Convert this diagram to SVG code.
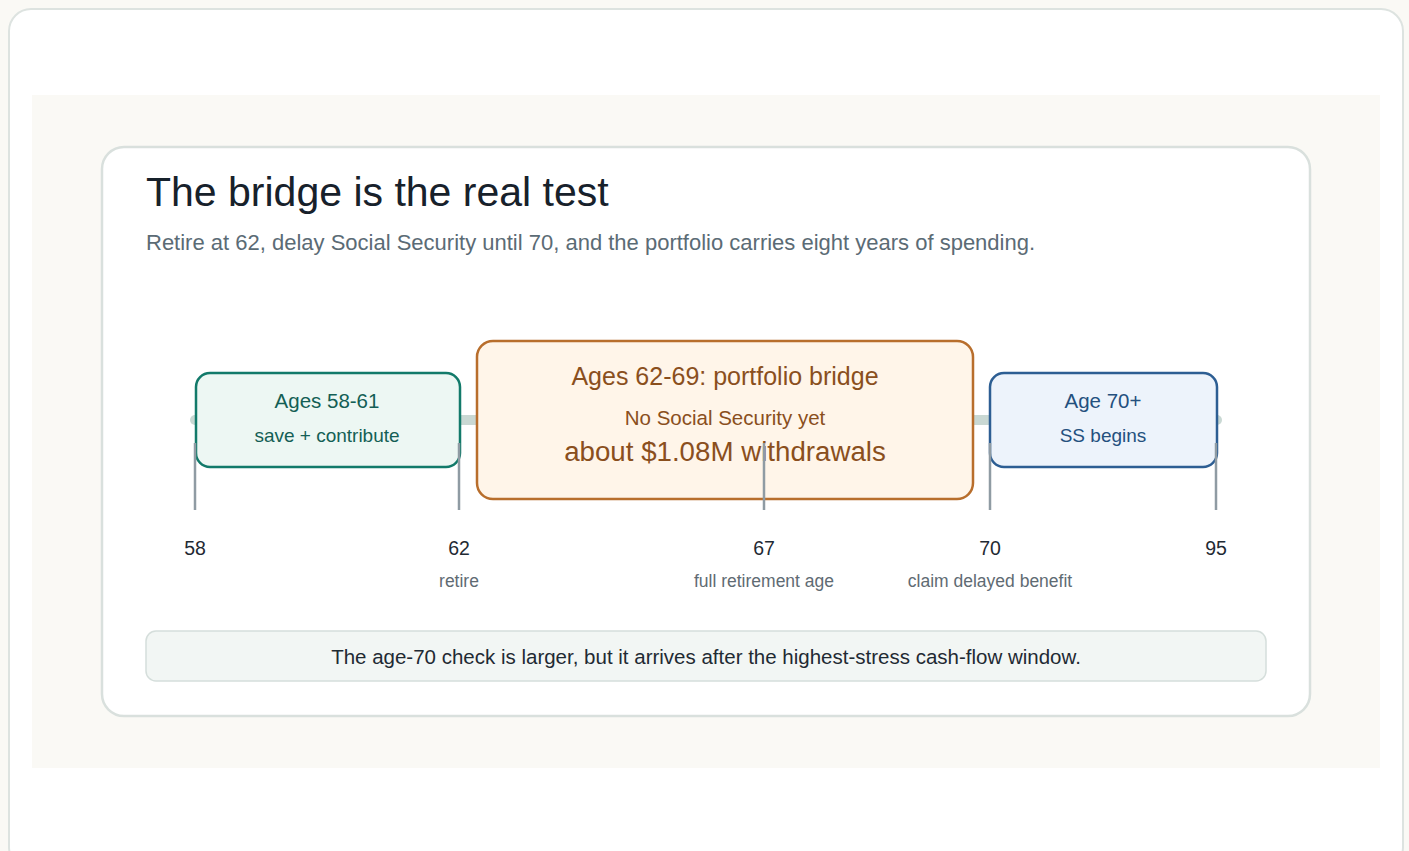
<svg xmlns="http://www.w3.org/2000/svg" width="1409" height="851" viewBox="0 0 1409 851">
<style>
text{font-family:"Liberation Sans",Arial,sans-serif}
.tick{stroke:#8f9ba3;stroke-width:2.5}
.age{font-size:19.5px;fill:#1f2a33;text-anchor:middle}
.lbl{font-size:17.5px;fill:#5f6b73;text-anchor:middle}
</style>
<rect x="0" y="0" width="1409" height="851" fill="#faf9f5"/>
<rect x="9" y="9" width="1394" height="860" rx="22" fill="#ffffff" stroke="#dde3e0" stroke-width="2"/>
<rect x="32" y="95" width="1348" height="673" fill="#faf9f5"/>
<rect x="102" y="147" width="1208" height="569" rx="22" fill="#ffffff" stroke="#d9e0dd" stroke-width="2.5"/>
<g id="title">
<text x="146" y="206" font-size="41" fill="#17212b">The bridge is the real test</text>
<text x="146" y="250" font-size="22" fill="#5b6b75">Retire at 62, delay Social Security until 70, and the portfolio carries eight years of spending.</text>
</g>
<g id="connectors">
<line x1="195" y1="420" x2="1217" y2="420" stroke="#c9d8d3" stroke-width="10" stroke-linecap="round"/>
</g>
<g id="phase-save">
<rect x="196" y="373" width="264" height="94" rx="14" fill="#edf7f3" stroke="#127a6a" stroke-width="2.5"/>
<text x="327" y="408" font-size="20.5" fill="#145f55" text-anchor="middle">Ages 58-61</text>
<text x="327" y="442" font-size="19" fill="#145f55" text-anchor="middle">save + contribute</text>
</g>
<g id="phase-bridge">
<rect x="477" y="341" width="496" height="158" rx="16" fill="#fff5e9" stroke="#b86e2c" stroke-width="2.5"/>
<text x="725" y="385" font-size="25" fill="#8a4f1d" text-anchor="middle">Ages 62-69: portfolio bridge</text>
<text x="725" y="425" font-size="20.5" fill="#8a4f1d" text-anchor="middle">No Social Security yet</text>
<text x="725" y="461" font-size="27.7" fill="#8a4f1d" text-anchor="middle">about $1.08M withdrawals</text>
</g>
<g id="phase-ss">
<rect x="990" y="373" width="227" height="94" rx="14" fill="#edf3fb" stroke="#2d5e93" stroke-width="2.5"/>
<text x="1103" y="408" font-size="20.5" fill="#24507e" text-anchor="middle">Age 70+</text>
<text x="1103" y="442" font-size="19" fill="#24507e" text-anchor="middle">SS begins</text>
</g>
<g id="ticks">
<line class="tick" x1="195" y1="443" x2="195" y2="510"/>
<line class="tick" x1="459" y1="443" x2="459" y2="510"/>
<line class="tick" x1="764" y1="443" x2="764" y2="510"/>
<line class="tick" x1="990" y1="443" x2="990" y2="510"/>
<line class="tick" x1="1216" y1="443" x2="1216" y2="510"/>
<text class="age" x="195" y="555">58</text>
<text class="age" x="459" y="555">62</text>
<text class="age" x="764" y="555">67</text>
<text class="age" x="990" y="555">70</text>
<text class="age" x="1216" y="555">95</text>
<text class="lbl" x="459" y="587">retire</text>
<text class="lbl" x="764" y="587">full retirement age</text>
<text class="lbl" x="990" y="587">claim delayed benefit</text>
</g>
<g id="note">
<rect x="146" y="631" width="1120" height="50" rx="10" fill="#f2f6f4" stroke="#d5dedb" stroke-width="1.5"/>
<text x="706" y="664" font-size="20.5" fill="#1f2a33" text-anchor="middle">The age-70 check is larger, but it arrives after the highest-stress cash-flow window.</text>
</g>
</svg>
